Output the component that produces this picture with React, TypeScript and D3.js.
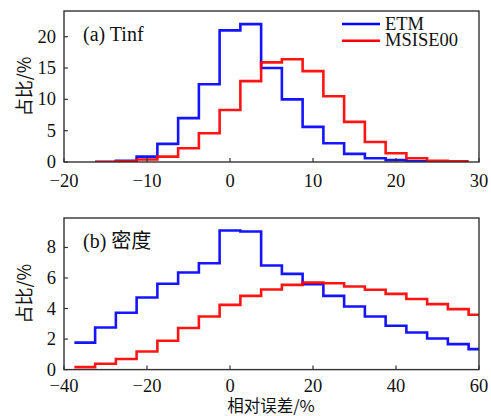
import React from "react";
import * as d3 from "d3";

// Panel (a): exospheric temperature relative error, bins of 2.5 %
const tinfCenters = [-15, -12.5, -10, -7.5, -5, -2.5, 0, 2.5, 5, 7.5, 10, 12.5, 15, 17.5, 20, 22.5, 25, 27.5];
const tinfEtm = [0, 0.2, 0.85, 2.9, 7.0, 12.4, 21.0, 22.0, 15.0, 10.0, 5.6, 3.0, 1.3, 0.6, 0.3, 0.1, 0, 0];
const tinfMsis = [0.05, 0.1, 0.4, 0.85, 2.2, 4.6, 8.3, 12.9, 15.9, 16.4, 14.5, 10.5, 6.4, 3.2, 1.4, 0.6, 0.2, 0.1];
const tinfBinWidth = 2.5;
const tinfXTicks = [-20, -10, 0, 10, 20, 30];
const tinfYTicks = [0, 5, 10, 15, 20];

// Panel (b): density relative error, bins of 5 %
const densCenters = [-35, -30, -25, -20, -15, -10, -5, 0, 5, 10, 15, 20, 25, 30, 35, 40, 45, 50, 55, 60];
const densEtm = [1.77, 2.76, 3.72, 4.72, 5.62, 6.36, 6.97, 9.11, 9.05, 6.82, 6.27, 5.6, 4.83, 4.13, 3.48, 2.87, 2.43, 2.04, 1.67, 1.34];
const densMsis = [0.16, 0.38, 0.69, 1.19, 1.89, 2.72, 3.48, 4.24, 4.83, 5.25, 5.55, 5.7, 5.66, 5.44, 5.23, 4.96, 4.62, 4.29, 3.96, 3.59];
const densBinWidth = 5;
const densXTicks = [-40, -20, 0, 20, 40, 60];
const densYTicks = [0, 2, 4, 6, 8];

const seriesNames = ["ETM", "MSISE00"];
const seriesColors = ["#0000ff", "#ff0000"];

const serif = "'Liberation Serif', 'Times New Roman', serif";
const cjk = "'Noto Sans CJK SC', sans-serif";

type PanelProps = {
  id: string;
  top: number;
  bottom: number;
  xLabelOffset: number;
  xDomain: [number, number];
  yDomain: [number, number];
  centers: number[];
  series: number[][];
  binWidth: number;
  xTicks: number[];
  yTicks: number[];
  title: React.ReactNode;
  showLegend: boolean;
};

const LEFT = 64;
const RIGHT = 479;

function stairPoints(centers: number[], values: number[], w: number): [number, number][] {
  const pts: [number, number][] = [];
  centers.forEach((c, i) => {
    pts.push([c - w / 2, values[i]]);
    pts.push([c + w / 2, values[i]]);
  });
  return pts;
}

function Panel(p: PanelProps) {
  const x = d3.scaleLinear().domain(p.xDomain).range([LEFT, RIGHT]);
  const y = d3.scaleLinear().domain(p.yDomain).range([p.bottom, p.top]);
  const line = d3
    .line<[number, number]>()
    .x((d) => x(d[0]))
    .y((d) => y(d[1]));
  const clipId = `clip-${p.id}`;
  const frame = "#333";
  return (
    <g>
      <defs>
        <clipPath id={clipId}>
          <rect x={LEFT} y={p.top} width={RIGHT - LEFT} height={p.bottom - p.top} />
        </clipPath>
      </defs>
      <g clipPath={`url(#${clipId})`}>
        {p.series.map((vals, i) => (
          <path
            key={i}
            d={line(stairPoints(p.centers, vals, p.binWidth)) || ""}
            fill="none"
            stroke={seriesColors[i]}
            strokeWidth={2.6}
            strokeOpacity={0.92}
          />
        ))}
      </g>
      <rect
        x={LEFT}
        y={p.top}
        width={RIGHT - LEFT}
        height={p.bottom - p.top}
        fill="none"
        stroke={frame}
        strokeWidth={1.4}
      />
      {p.xTicks.map((t) => (
        <g key={`x${t}`}>
          <line x1={x(t)} x2={x(t)} y1={p.bottom} y2={p.bottom - 4} stroke={frame} strokeWidth={1.2} />
          <text
            x={x(t)}
            y={p.bottom + p.xLabelOffset}
            textAnchor="middle"
            fontFamily={serif}
            fontSize={18.5}
            fill="#111"
          >
            {t < 0 ? `\u2212${Math.abs(t)}` : `${t}`}
          </text>
        </g>
      ))}
      {p.yTicks.map((t) => (
        <g key={`y${t}`}>
          <line x1={LEFT} x2={LEFT + 4} y1={y(t)} y2={y(t)} stroke={frame} strokeWidth={1.2} />
          <text
            x={LEFT - 8}
            y={y(t) + 6}
            textAnchor="end"
            fontFamily={serif}
            fontSize={18.5}
            fill="#111"
          >
            {t}
          </text>
        </g>
      ))}
      <text
        transform={`translate(${31},${(p.top + p.bottom) / 2}) rotate(-90)`}
        textAnchor="middle"
        fontFamily={cjk}
        fontSize={18}
        fill="#111"
      >
        占比/%
      </text>
      {p.title}
      {p.showLegend &&
        seriesNames.map((name, i) => (
          <g key={name}>
            <line
              x1={342}
              x2={380}
              y1={24 + i * 16.7}
              y2={24 + i * 16.7}
              stroke={seriesColors[i]}
              strokeWidth={2.6}
            />
            <text x={385} y={24 + i * 16.7 + 5.5} fontFamily={serif} fontSize={18.5} fill="#111">
              {name}
            </text>
          </g>
        ))}
    </g>
  );
}

export default function App() {
  return (
    <svg width={491} height={416} style={{ position: "absolute", left: 0, top: 0, background: "#fff" }}>
      <rect x={0} y={0} width={491} height={416} fill="#fff" />
      <Panel
        id="a"
        top={11}
        bottom={162}
        xLabelOffset={25}
        xDomain={[-20, 30]}
        yDomain={[0, 24.1]}
        centers={tinfCenters}
        series={[tinfEtm, tinfMsis]}
        binWidth={tinfBinWidth}
        xTicks={tinfXTicks}
        yTicks={tinfYTicks}
        showLegend={true}
        title={
          <text x={83} y={41} fontFamily={serif} fontSize={20} fill="#111">
            (a) Tinf
          </text>
        }
      />
      <Panel
        id="b"
        top={218}
        bottom={369.6}
        xLabelOffset={22.5}
        xDomain={[-40, 60]}
        yDomain={[0, 9.93]}
        centers={densCenters}
        series={[densEtm, densMsis]}
        binWidth={densBinWidth}
        xTicks={densXTicks}
        yTicks={densYTicks}
        showLegend={false}
        title={
          <text x={83} y={248} fontSize={20} fill="#111">
            <tspan fontFamily={serif}>(b) </tspan>
            <tspan fontFamily={cjk}>密度</tspan>
          </text>
        }
      />
      <text x={271} y={412} textAnchor="middle" fontFamily={cjk} fontSize={16.5} fill="#111">
        相对误差/%
      </text>
    </svg>
  );
}
